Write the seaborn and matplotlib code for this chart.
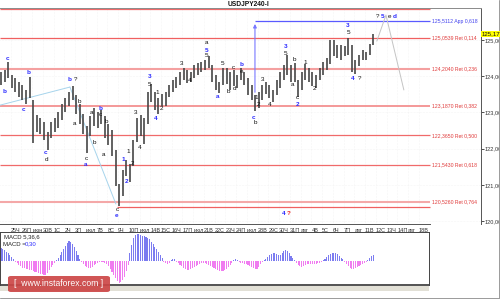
import numpy as np
import pandas as pd
import matplotlib
matplotlib.use("Agg")
import matplotlib.pyplot as plt
import seaborn as sns
from matplotlib.patches import Rectangle, FancyBboxPatch
from matplotlib.lines import Line2D

sns.set_style("white")
plt.rcParams['font.family'] = ['Liberation Sans', 'DejaVu Sans']

# ---------------- data ----------------
highs = [124.12, 124.17, 124.39, 124.03, 123.95, 123.84, 123.76, 123.62, 123.98, 123.34,
         122.93, 122.85, 122.73, 122.46, 122.73, 122.85, 123.01, 123.23, 123.40, 123.56,
         123.73, 123.48, 123.23, 122.96, 122.62, 122.90, 123.12, 123.01, 123.07, 122.90,
         122.68, 122.51, 121.96, 121.02, 121.41, 121.69, 121.57, 122.24, 122.85, 122.93,
         122.85, 123.56, 123.78, 123.56, 123.40, 123.51, 123.56, 123.76, 123.90, 123.98,
         124.12, 124.23, 124.17, 124.12, 124.31, 124.36, 124.39, 124.45, 124.56, 124.31,
         124.03, 123.84, 124.23, 124.23, 124.12, 124.17, 124.03, 124.23, 124.12, 123.95,
         123.76, 123.48, 123.56, 123.76, 123.84, 123.76, 123.62, 123.90, 124.12, 124.31,
         124.59, 124.31, 124.36, 123.90, 124.12, 124.34, 124.23, 124.12, 124.03, 124.23,
         124.39, 124.50, 125.00, 125.00, 124.86, 124.86, 124.83, 125.06, 124.86, 124.45,
         124.59, 124.72, 124.67, 124.89, 125.17]
lows = [123.76, 123.84, 123.95, 123.67, 123.56, 123.43, 123.34, 123.23, 123.40, 122.15,
        122.46, 122.40, 122.24, 121.96, 122.29, 122.46, 122.57, 122.79, 123.01, 123.18,
        123.34, 122.96, 122.68, 122.40, 121.88, 122.35, 122.62, 122.57, 122.68, 122.29,
        122.10, 121.80, 120.97, 120.41, 120.69, 121.24, 121.08, 121.52, 122.18, 122.35,
        122.13, 122.68, 123.29, 123.07, 122.96, 123.18, 123.18, 123.43, 123.56, 123.67,
        123.76, 123.90, 123.81, 123.84, 123.95, 124.03, 124.12, 124.17, 124.23, 123.84,
        123.62, 123.54, 123.76, 123.78, 123.62, 123.73, 123.67, 123.90, 123.76, 123.48,
        123.34, 123.04, 123.12, 123.34, 123.51, 123.40, 123.29, 123.48, 123.67, 123.90,
        124.03, 123.84, 123.84, 123.43, 123.62, 123.90, 123.84, 123.73, 123.67, 123.90,
        124.03, 124.17, 124.34, 124.56, 124.50, 124.45, 124.56, 124.59, 124.12, 124.06,
        124.28, 124.45, 124.45, 124.59, 124.86]

macd_hist = [0.13, 0.12, 0.11, 0.09, 0.08, 0.06, 0.04, 0.02,
             -0.01, -0.02, -0.04, -0.05, -0.07, -0.07, -0.08, -0.08, -0.09, -0.09, -0.10, -0.11,
             -0.11, -0.12, -0.13, -0.13, -0.14, -0.14, -0.12, -0.09, -0.06, -0.04, -0.02,
             0.01, 0.03, 0.06, 0.09, 0.12, 0.15, 0.18, 0.20, 0.19, 0.17, 0.14, 0.10, 0.06, 0.02,
             -0.01, -0.03, -0.05, -0.06, -0.07, -0.07, -0.06, -0.04, -0.03, -0.02, -0.01,
             -0.01, -0.01, -0.02, -0.03, -0.05, -0.08, -0.11, -0.14, -0.17, -0.20, -0.22, -0.21,
             -0.19, -0.16, -0.10, -0.04,
             0.08, 0.16, 0.23, 0.26, 0.27, 0.27, 0.26, 0.25, 0.25, 0.24, 0.23, 0.22, 0.19, 0.17,
             0.14, 0.12, 0.09, 0.06, 0.03,
             -0.01, -0.02, -0.03, -0.02,
             0.01, 0.02, 0.02,
             -0.01, -0.02, -0.04, -0.05, -0.07, -0.08, -0.09, -0.09, -0.08, -0.07, -0.06, -0.05, -0.04,
             -0.03, -0.02, -0.02, -0.02, -0.03,
             -0.04, -0.05, -0.06, -0.07, -0.08, -0.09, -0.10, -0.10, -0.10, -0.09, -0.08, -0.06,
             -0.04, -0.02,
             0.01, 0.02, 0.01,
             -0.01, -0.02, -0.02, -0.03, -0.03, -0.04,
             -0.05, -0.06, -0.07, -0.08, -0.08, -0.06, -0.03, -0.01,
             0.01, 0.02, 0.04, 0.06, 0.07, 0.08, 0.08, 0.07, 0.06, 0.06, 0.08, 0.10, 0.11, 0.10,
             0.08, 0.05, 0.03, 0.01,
             -0.02, -0.04, -0.05, -0.06, -0.05, -0.04, -0.03, -0.03, -0.03, -0.03, -0.03, -0.03,
             -0.02, -0.02, -0.01,
             0.01, 0.02, 0.04, 0.06, 0.07, 0.08, 0.08, 0.08, 0.07, 0.05, 0.03, 0.02,
             -0.01, -0.03, -0.05, -0.07, -0.08, -0.08, -0.07, -0.06, -0.05, -0.04, -0.03, -0.02, -0.01,
             0.01, 0.03, 0.05, 0.06]

day_labels = ["25Ч", "26П", "июн", "30В", "1С", "2Ч", "3П", "июл", "7В", "8С", "9Ч", "10П",
              "июл", "14В", "15С", "16Ч", "17П", "июл", "21В", "22С", "23Ч", "24П", "июл",
              "28В", "29С", "30Ч", "31П", "авг", "4В", "5С", "6Ч", "7П", "авг", "11В", "12С",
              "13Ч", "14П", "авг", "18В"]

price_ticks = [120, 121, 122, 123, 124, 125]
price_tick_labels = ["120,000", "121,000", "122,000", "123,000", "124,000", "125,000"]

fib_levels = [125.8480, 125.0539, 124.2040, 123.1870, 122.3650, 121.5430, 120.5260, 120.3730]
fib_texts = ["", "125,0539 Ret 0,114", "124,2040 Ret 0,236", "123,1870 Ret 0,382",
             "122,3650 Ret 0,500", "121,5430 Ret 0,618", "120,5260 Ret 0,764", ""]
app_level = 125.52
app_text = "125,5112 App 0,618"
last_price_text = "125,171"
title = "USDJPY240-I"

# wave labels: (text, bar position, price, colour key)
wave_labels = [
    ("c", 3.9, 124.48, "b"), ("b", 2.2, 123.59, "b"), ("c", 12.3, 123.09, "b"),
    ("b", 15.1, 124.09, "b"), ("c", 25.1, 121.88, "b"), ("d", 25.7, 121.71, "k"),
    ("b", 38.5, 123.92, "b"), ("?", 41.9, 123.92, "k"), ("b", 43.6, 123.31, "k"),
    ("a", 41.3, 122.68, "k"), ("c", 47.5, 121.74, "k"), ("a", 47.5, 121.57, "b"),
    ("a", 50.8, 123.01, "k"), ("b", 55.3, 123.12, "b"), ("c", 55.3, 122.93, "k"),
    ("b", 58.7, 122.76, "k"), ("b", 52.0, 122.18, "k"), ("a", 57.5, 121.85, "k"),
    ("c", 64.8, 120.33, "k"), ("e", 64.8, 120.14, "b"), ("1", 68.2, 121.69, "b"),
    ("2", 70.4, 121.10, "b"), ("1", 70.9, 121.91, "k"), ("2", 73.2, 121.60, "k"),
    ("3", 75.4, 123.01, "k"), ("4", 77.7, 122.04, "k"), ("4", 86.6, 122.82, "b"),
    ("3", 83.2, 123.98, "b"), ("5", 83.2, 123.78, "k"), ("1", 87.2, 123.56, "k"),
    ("2", 89.9, 123.12, "k"), ("3", 101.1, 124.36, "k"), ("4", 105.6, 123.87, "k"),
    ("a", 115.1, 124.92, "k"), ("5", 115.1, 124.72, "b"), ("5", 115.1, 124.57, "k"),
    ("a", 121.2, 123.43, "b"), ("5", 124.0, 124.36, "k"), ("b", 126.8, 123.59, "k"),
    ("c", 129.6, 124.25, "k"), ("d", 130.2, 123.65, "k"), ("b", 134.1, 124.31, "b"),
    ("e", 134.1, 124.14, "k"), ("1", 142.5, 123.40, "k"), ("2", 144.1, 123.23, "k"),
    ("c", 141.3, 122.87, "b"), ("b", 141.9, 122.71, "k"), ("3", 146.4, 123.90, "k"),
    ("4", 150.3, 123.23, "k"), ("3", 159.2, 124.81, "b"), ("5", 159.2, 124.64, "k"),
    ("a", 162.6, 123.78, "k"), ("b", 164.2, 124.45, "k"), ("c", 165.4, 123.40, "k"),
    ("2", 165.4, 123.23, "b"), ("1", 169.8, 124.39, "k"), ("2", 174.9, 123.67, "k"),
    ("3", 193.9, 125.39, "b"), ("5", 193.9, 125.22, "k"), ("4", 196.6, 123.95, "b"),
    ("?", 200.6, 123.95, "k"), ("?", 210.6, 125.64, "k"), ("5", 213.4, 125.64, "b"),
    ("e", 216.8, 125.64, "k"), ("d", 220.1, 125.66, "b"), ("4", 158.1, 120.22, "b"),
    ("?", 160.9, 120.22, "r"),
]

# ---------------- figure ----------------
W, H = 500, 299
fig = plt.figure(figsize=(5, 2.99), dpi=100, facecolor="white")


def frac(x0, y0, x1, y1):
    return [x0 / W, 1 - y1 / H, (x1 - x0) / W, (y1 - y0) / H]


ax = fig.add_axes(frac(0, 8, 481, 224))
ax2 = fig.add_axes(frac(0, 232, 429, 285))

# ---- main price panel ----
bar_x = np.arange(len(highs)) * 2
ax.grid(True, color="#ececec", lw=0.4, ls=":")
ax.vlines(bar_x, lows, highs, color="#474747", lw=1.2, zorder=3)

fib_end = 239.7
fib_styles = [("#f06a6a", 0.9), ("#f06060", 0.9), ("#f4a0a0", 1.5), ("#f39090", 1.3),
              ("#f06a6a", 0.9), ("#f06a6a", 0.9), ("#f4a8a8", 1.5), ("#f06060", 0.9)]
fib_start = [-0.56] * 7 + [64.8]
for lvl, txt, (c, lw), xs in zip(fib_levels, fib_texts, fib_styles, fib_start):
    ax.hlines(lvl, xs, fib_end, colors=c, lw=lw, zorder=2)
    if txt:
        ax.text(240.8, lvl, txt, color="#e03a3a", fontsize=3.7, va="center", ha="left",
                clip_on=False)

ax.hlines(app_level, 141.9, fib_end, colors="#5a5aff", lw=0.9, zorder=2)
ax.text(240.8, app_level, app_text, color="#4040ee", fontsize=3.7, va="center", ha="left")
ax.annotate("", xy=(141.9, app_level), xytext=(141.9, 123.48),
            arrowprops=dict(arrowstyle="-|>", color="#7878ff", lw=0.8, mutation_scale=5))

# helper lines
ax.plot([-0.56, 38.5], [123.20, 123.70], color="#a6d4ec", lw=0.7, zorder=2)
ax.plot([38.5, 64.2], [123.70, 120.47], color="#a6d4ec", lw=0.7, zorder=2)
ax.plot([210.0, 215.1, 225.1], [124.97, 125.69, 123.62], color="#c4c4c4", lw=0.7, zorder=2)

cmap = {"k": "#111111", "b": "#2a2aff", "r": "#ee2020"}
for t, xj, yp, ck in wave_labels:
    ax.text(xj, yp, t, color=cmap[ck], fontsize=4.6, ha="center", va="center",
            zorder=5, fontweight="bold" if ck != "k" else "normal")

ax.set_xlim(-0.56, 268.2)
ax.set_ylim(119.917, 125.884)
ax.yaxis.tick_right()
ax.set_yticks(price_ticks)
ax.set_yticklabels(price_tick_labels)
ax.tick_params(axis="y", length=2, width=0.6, pad=0.5, labelsize=4.1,
               colors="#333333", direction="out")
ax.set_xticks([5.4 + 6 * k for k in range(len(day_labels))])
ax.set_xticklabels(day_labels, ha="left")
ax.tick_params(axis="x", length=2.5, width=0.5, pad=0.4, labelsize=4.0,
               colors="#333333", direction="out")
ax.spines["left"].set_visible(False)
ax.spines["top"].set_color("#8a8a8a")
ax.spines["top"].set_linewidth(0.7)
ax.spines["right"].set_color("#555555")
ax.spines["right"].set_linewidth(0.7)
ax.spines["bottom"].set_color("#555555")
ax.spines["bottom"].set_linewidth(0.7)
ax.spines["bottom"].set_bounds(-0.56, fib_end)

# ---- MACD panel ----
df = pd.DataFrame({"j": np.arange(len(macd_hist)), "v": macd_hist})
df["sign"] = np.where(df["v"] >= 0, "pos", "neg")
sns.barplot(data=df, x="j", y="v", hue="sign", palette={"pos": "#7c7cf0", "neg": "#f07cf0"},
            native_scale=True, dodge=False, width=0.6, linewidth=0, saturation=1,
            errorbar=None, legend=False, ax=ax2)
ax2.set_xlim(-0.56, 239.1)
ax2.set_ylim(-0.243, 0.287)
ax2.set_xticks([])
ax2.set_yticks([])
ax2.set_xlabel("")
ax2.set_ylabel("")
for s in ax2.spines.values():
    s.set_color("#444444")
    s.set_linewidth(0.7)
ax2.spines["bottom"].set_linewidth(1.3)

fig.text(4 / W, 1 - 237 / H, "MACD 5,36,6", fontsize=4.3, color="#222222", va="center")
fig.text(3 / W, 1 - 244 / H, "MACD =", fontsize=4.3, color="#222222", va="center")
fig.text(25 / W, 1 - 244 / H, "0,30", fontsize=4.3, color="#2a2aff", va="center")

# grey strip under MACD
fig.add_artist(Rectangle((0, 1 - 291 / H), 429 / W, 5 / H, transform=fig.transFigure,
                         facecolor="#e2e0d6", edgecolor="none", zorder=1))

# watermark
fig.add_artist(FancyBboxPatch((8 / W, 1 - 292 / H), 102 / W, 16 / H,
                              boxstyle="round,pad=0,rounding_size=0.006",
                              transform=fig.transFigure, facecolor="#cc4646",
                              edgecolor="none", alpha=0.92, zorder=6))
fig.text(59 / W, 1 - 284 / H, "[  www.instaforex.com ]", color="white", fontsize=6.2,
         ha="center", va="center", zorder=7)

# title and current price box
fig.text(248 / W, 1 - 4 / H, title, fontsize=4.8, fontweight="bold", ha="center",
         va="center", color="#111111")
fig.text(482 / W, 1 - 34 / H, last_price_text, fontsize=4.4, ha="left", va="center",
         color="#111111",
         bbox=dict(boxstyle="square,pad=0.12", facecolor="#ffff00", edgecolor="none"))

# outer frame (right / bottom)
fig.add_artist(Line2D([498.5 / W, 498.5 / W], [1 - 297.5 / H, 1], transform=fig.transFigure,
                      color="#9a9a9a", lw=0.7))
fig.add_artist(Line2D([0, 498.5 / W], [1 - 297.5 / H, 1 - 297.5 / H],
                      transform=fig.transFigure, color="#9a9a9a", lw=0.7))

fig.savefig("out.png", dpi=100, facecolor="white")
